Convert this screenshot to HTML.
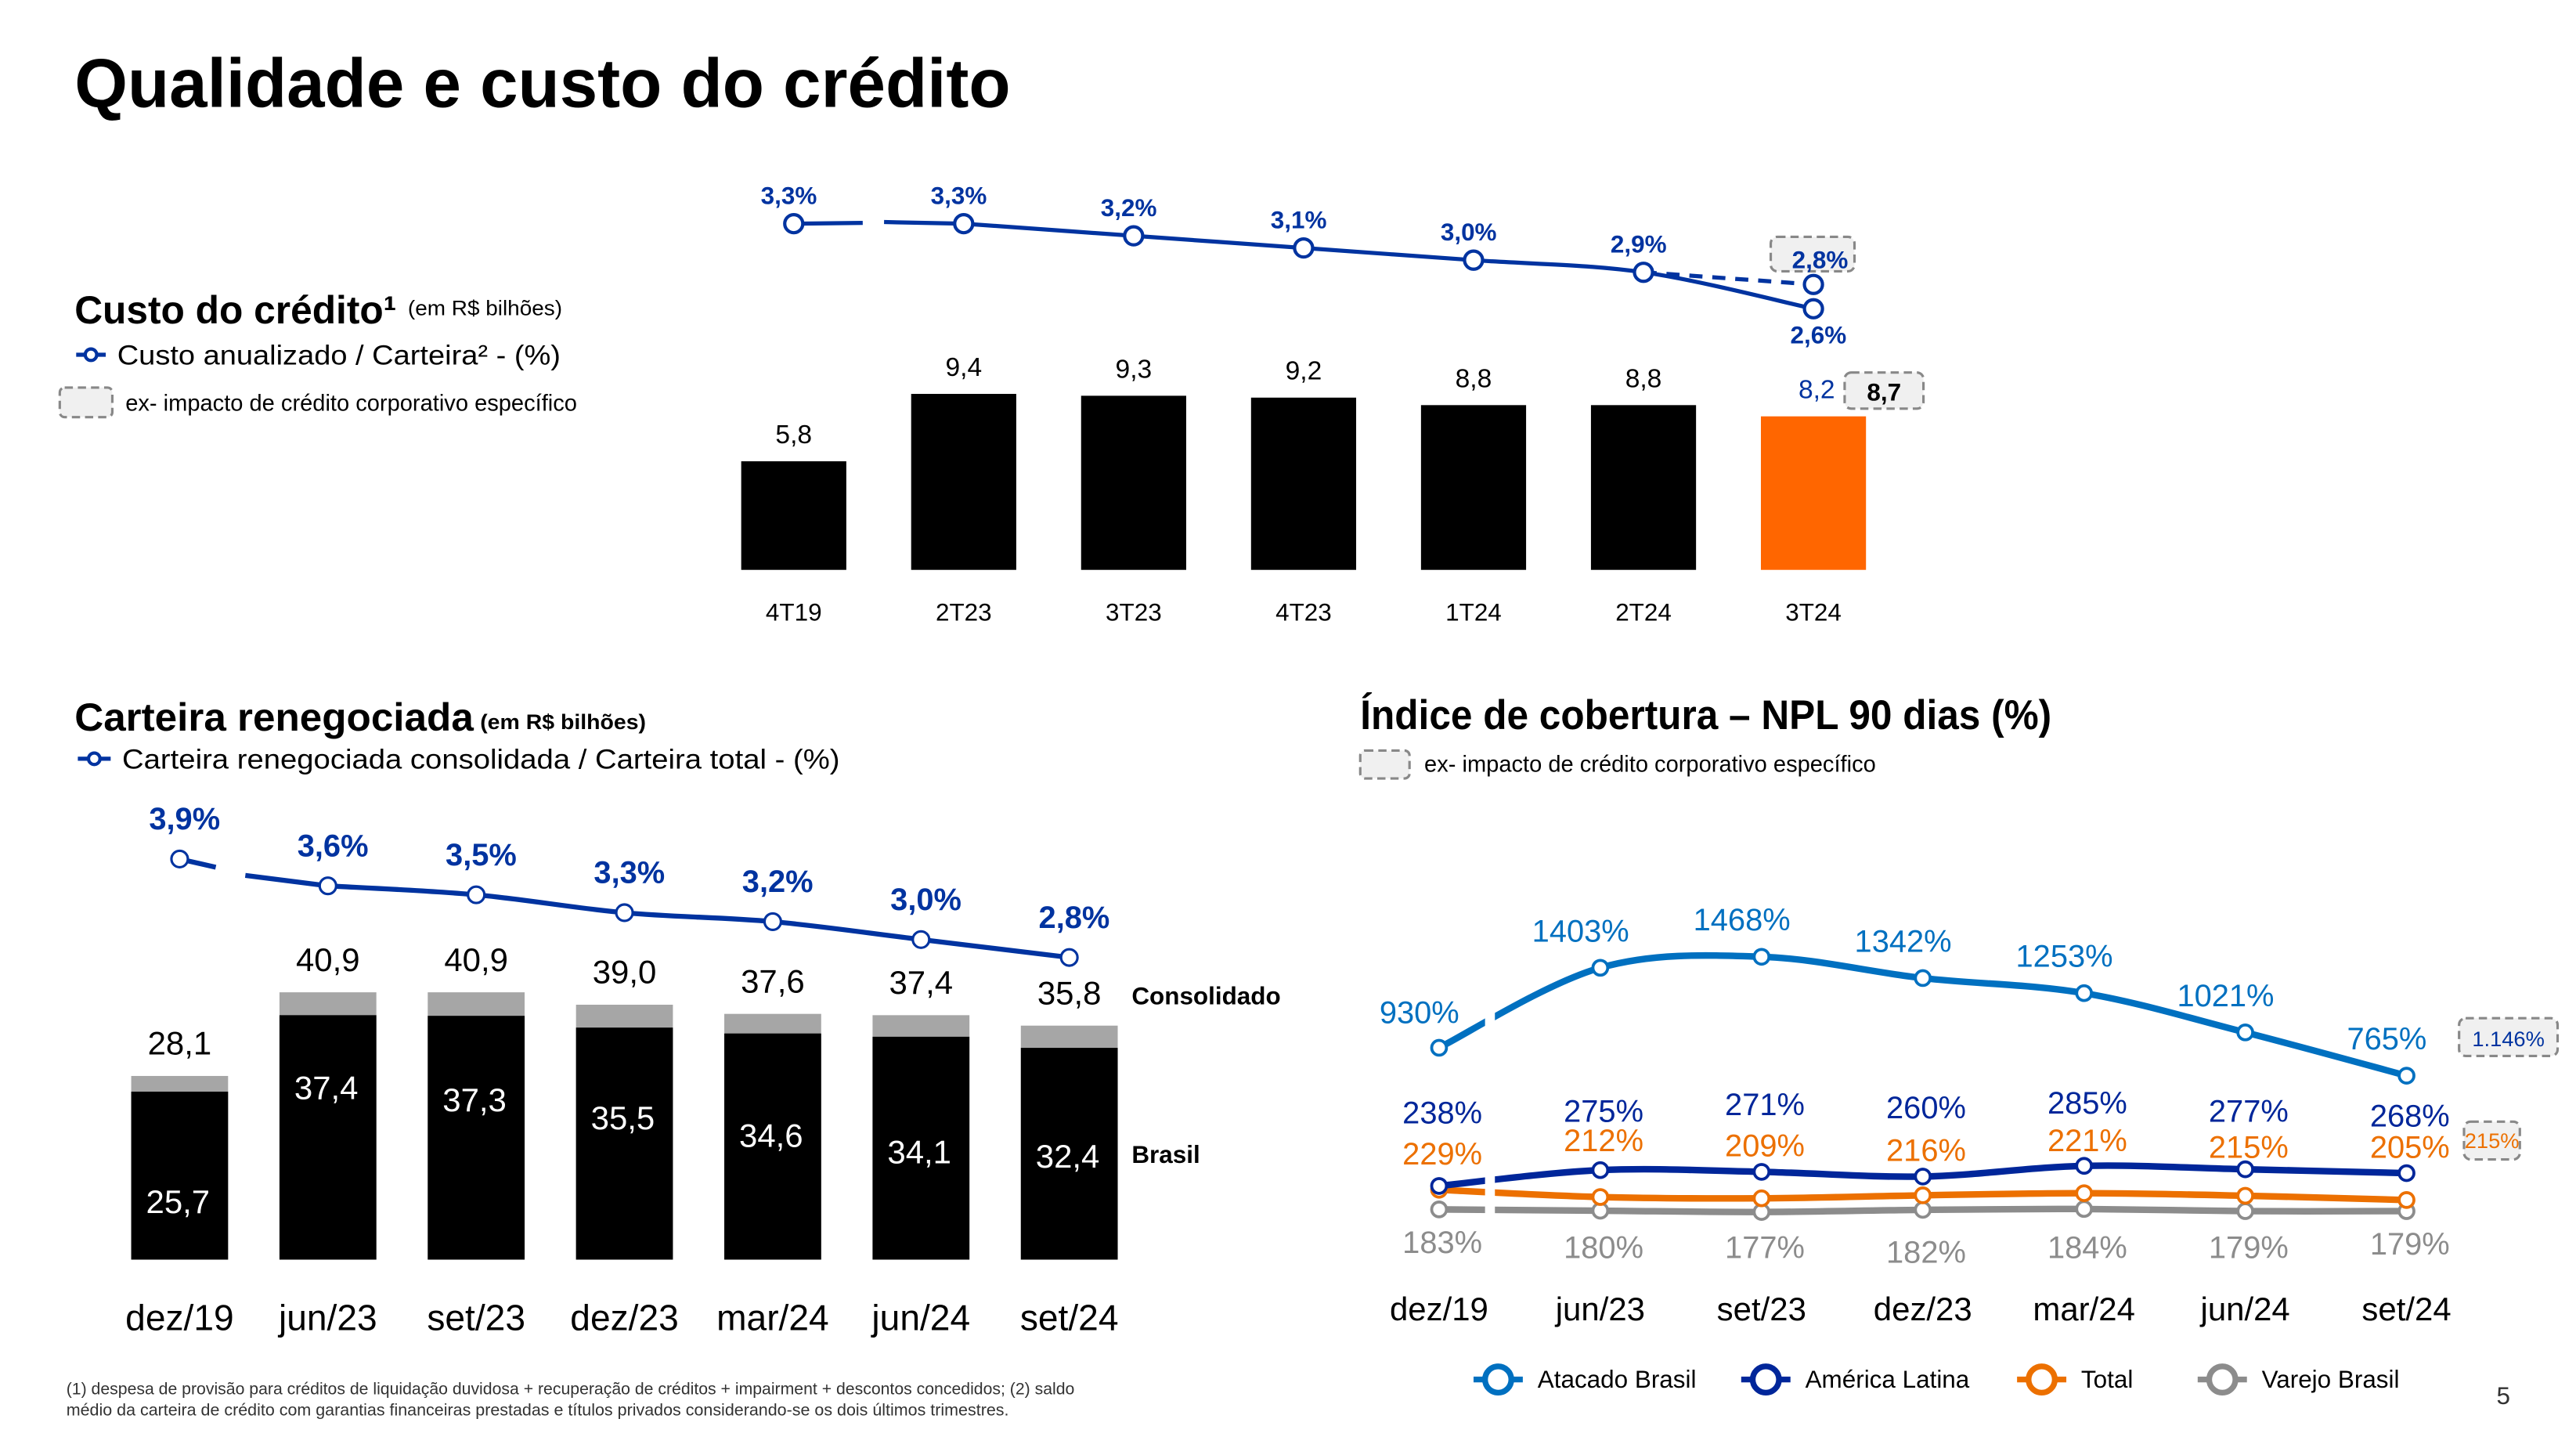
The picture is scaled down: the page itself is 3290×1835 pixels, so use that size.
<!DOCTYPE html>
<html><head><meta charset="utf-8">
<style>
html,body{margin:0;padding:0;background:#fff;}
svg{display:block;}
text{font-family:"Liberation Sans",sans-serif;}
</style></head>
<body>
<svg id="s" xmlns="http://www.w3.org/2000/svg" width="3290" height="1835" viewBox="0 0 1568 875">
<rect width="1568" height="875" fill="#fff"/>
<text x="45" y="65" font-size="42" font-weight="bold" textLength="570" lengthAdjust="spacingAndGlyphs">Qualidade e custo do crédito</text>

<g>
<text x="45" y="197" font-size="24" font-weight="bold" textLength="196" lengthAdjust="spacingAndGlyphs">Custo do crédito¹</text>
<text x="248" y="192" font-size="13" textLength="94" lengthAdjust="spacingAndGlyphs">(em R$ bilhões)</text>
<line x1="46" y1="216" x2="64" y2="216" stroke="#0033a0" stroke-width="2.5"/><circle cx="55" cy="216" r="3.5" fill="#fff" stroke="#0033a0" stroke-width="2"/>
<text x="71" y="222" font-size="17" textLength="270" lengthAdjust="spacingAndGlyphs">Custo anualizado / Carteira² - (%)</text>
<rect x="36" y="236" width="32" height="18" rx="3" fill="#f0f0f0" stroke="#888" stroke-dasharray="5,3" stroke-width="1.5"/>
<text x="76" y="250" font-size="14" textLength="275" lengthAdjust="spacingAndGlyphs">ex- impacto de crédito corporativo específico</text>
</g>
<g id="c1"></g>

<text x="45" y="445" font-size="24" font-weight="bold" textLength="243" lengthAdjust="spacingAndGlyphs">Carteira renegociada</text>
<text x="292" y="444" font-size="13" font-weight="bold" textLength="101" lengthAdjust="spacingAndGlyphs">(em R$ bilhões)</text>
<line x1="47" y1="462" x2="67" y2="462" stroke="#0033a0" stroke-width="2.5"/><circle cx="57" cy="462" r="3.5" fill="#fff" stroke="#0033a0" stroke-width="2"/>
<text x="74" y="468" font-size="17" textLength="437" lengthAdjust="spacingAndGlyphs">Carteira renegociada consolidada / Carteira total - (%)</text>
<g id="c2"></g>

<text x="828" y="444" font-size="25" font-weight="bold" textLength="421" lengthAdjust="spacingAndGlyphs">Índice de cobertura – NPL 90 dias (%)</text>
<rect x="828" y="457" width="30" height="17" rx="3" fill="#f0f0f0" stroke="#888" stroke-dasharray="5,3" stroke-width="1.5"/>
<text x="867" y="470" font-size="14" textLength="275" lengthAdjust="spacingAndGlyphs">ex- impacto de crédito corporativo específico</text>
<g id="c3"></g>

<text x="40" y="849" font-size="10" fill="#333" textLength="614" lengthAdjust="spacingAndGlyphs">(1) despesa de provisão para créditos de liquidação duvidosa + recuperação de créditos + impairment + descontos concedidos; (2) saldo</text>
<text x="40" y="862" font-size="10" fill="#333" textLength="574" lengthAdjust="spacingAndGlyphs">médio da carteira de crédito com garantias financeiras prestadas e títulos privados considerando-se os dois últimos trimestres.</text>
<text x="1520" y="855" font-size="15" fill="#333">5</text>
</svg>
<script>
// ---- Chart 1 data ----
const c1Cats=["4T19","2T23","3T23","4T23","1T24","2T24","3T24"];
const c1Bars=[5.8,9.4,9.3,9.2,8.8,8.8,8.2];
const c1Line=[3.3,3.3,3.2,3.1,3.0,2.9,2.6];
const c1ExBar=8.7;
const c1ExLine=2.8;
// ---- Chart 2 data ----
const c2Cats=["dez/19","jun/23","set/23","dez/23","mar/24","jun/24","set/24"];
const c2Cons=[28.1,40.9,40.9,39.0,37.6,37.4,35.8];
const c2Brasil=[25.7,37.4,37.3,35.5,34.6,34.1,32.4];
const c2Line=[3.9,3.6,3.5,3.3,3.2,3.0,2.8];
// ---- Chart 3 data ----
const c3Cats=["dez/19","jun/23","set/23","dez/23","mar/24","jun/24","set/24"];
const c3Atacado=[930,1403,1468,1342,1253,1021,765];
const c3Latam=[238,275,271,260,285,277,268];
const c3Total=[229,212,209,216,221,215,205];
const c3Varejo=[183,180,177,182,184,179,179];
const c3ExAtacado="1.146%";
const c3ExTotal="215%";

const NS="http://www.w3.org/2000/svg";
function mk(p,tag,a,txt){const e=document.createElementNS(NS,tag);for(const k in a)e.setAttribute(k,a[k]);if(txt!==undefined)e.textContent=txt;p.appendChild(e);return e;}
const fmt=v=>v.toFixed(1).replace('.',',');
function smooth(pts){let d="M"+pts[0][0]+","+pts[0][1];for(let i=0;i<pts.length-1;i++){const p0=pts[i-1]||pts[i],p1=pts[i],p2=pts[i+1],p3=pts[i+2]||p2;const t=6;d+=" C"+(p1[0]+(p2[0]-p0[0])/t)+","+(p1[1]+(p2[1]-p0[1])/t)+" "+(p2[0]-(p3[0]-p1[0])/t)+","+(p2[1]-(p3[1]-p1[1])/t)+" "+p2[0]+","+p2[1];}return d;}

// Chart 1
(function(){
const g=document.getElementById('c1');
const x=i=>483+i*103.5, yb=v=>347-v*11.4, yl=v=>188-(v-2.6)*74;
c1Bars.forEach((v,i)=>{
 const last=i===c1Bars.length-1;
 const r=mk(g,'rect',{x:x(i)-32,y:yb(v),width:64,height:347-yb(v),fill:last?'#ff6600':'#000'});
 
 
 const t=mk(g,'text',{x:last?x(i)+2:x(i),y:yb(v)-11,'font-size':16,'text-anchor':'middle',fill:last?'#0033a0':'#000'},fmt(v));
 
 
 const c=mk(g,'text',{x:x(i),y:378,'font-size':15,'text-anchor':'middle'},c1Cats[i]);
 
 
});
const n=c1Bars.length-1;
const bx=mk(g,'rect',{x:x(n)+19,y:yb(c1ExBar)-21,width:48,height:22,rx:4,fill:'#f0f0f0',stroke:'#888','stroke-dasharray':'5,3','stroke-width':1.5});


const bt=mk(g,'text',{x:x(n)+43,y:yb(c1ExBar)-4,'font-size':15,'font-weight':'bold','text-anchor':'middle'},fmt(c1ExBar));


const pts=c1Line.map((v,i)=>[x(i),yl(v)]);
const l1=mk(g,'path',{d:"M"+pts[0][0]+","+pts[0][1]+" L"+(pts[0][0]+42)+","+(pts[0][1]-0.5),fill:'none',stroke:'#0033a0','stroke-width':2.5});


const l2=mk(g,'path',{d:"M"+(pts[0][0]+55)+","+(pts[0][1]-1)+" L"+pts[1][0]+","+pts[1][1]+smooth(pts.slice(1)).replace(/^M[^ ]+/,''),fill:'none',stroke:'#0033a0','stroke-width':2.5});


const dl=mk(g,'line',{x1:pts[n-1][0],y1:pts[n-1][1],x2:x(n),y2:yl(c1ExLine),stroke:'#0033a0','stroke-width':2.5,'stroke-dasharray':'8,6'});


const ebx=mk(g,'rect',{x:x(n)-26,y:yl(c1ExLine)-29,width:51,height:21,rx:4,fill:'#f0f0f0',stroke:'#888','stroke-dasharray':'5,3','stroke-width':1.5});


const et=mk(g,'text',{x:x(n)+4,y:yl(c1ExLine)-10,'font-size':15,'font-weight':'bold','text-anchor':'middle',fill:'#0033a0'},fmt(c1ExLine)+'%');


const ec=mk(g,'circle',{cx:x(n),cy:yl(c1ExLine),r:5.5,fill:'#fff',stroke:'#0033a0','stroke-width':2});


pts.forEach((p,i)=>{
 const c=mk(g,'circle',{cx:p[0],cy:p[1],r:5.5,fill:'#fff',stroke:'#0033a0','stroke-width':2});
 
 
 const last=i===n;
 const t=mk(g,'text',{x:p[0]+(last?3:-3),y:last?p[1]+21:p[1]-12,'font-size':15,'font-weight':'bold','text-anchor':'middle',fill:'#0033a0'},fmt(c1Line[i])+'%');
 
 
});
})();

// Chart 2
(function(){
const g=document.getElementById('c2');
const x=i=>109+i*90.3, yb=v=>767-v*3.98, yl=v=>583-(v-2.8)*54.5;
const inOff=[74,51,58,62,69,77,73];
c2Cons.forEach((v,i)=>{
 const r=mk(g,'rect',{x:x(i)-29.5,y:yb(v),width:59,height:767-yb(v),fill:'#a6a6a6'});
 
 
 const b=mk(g,'rect',{x:x(i)-29.5,y:yb(c2Brasil[i]),width:59,height:767-yb(c2Brasil[i]),fill:'#000'});
 
 
 const t=mk(g,'text',{x:x(i),y:yb(v)-13,'font-size':20,'text-anchor':'middle'},fmt(v));
 
 
 const tb=mk(g,'text',{x:x(i)-1,y:yb(c2Brasil[i])+inOff[i],'font-size':20,'text-anchor':'middle',fill:'#fff'},fmt(c2Brasil[i]));
 
 
 const c=mk(g,'text',{x:x(i),y:810,'font-size':22,'text-anchor':'middle'},c2Cats[i]);
 
 
});
const n=c2Cons.length-1;
const a=mk(g,'text',{x:x(n)+38,y:yb(c2Cons[n])-13,'font-size':15,'font-weight':'bold'},'Consolidado');


const b=mk(g,'text',{x:x(n)+38,y:yb(c2Brasil[n])+70,'font-size':15,'font-weight':'bold'},'Brasil');


const pts=c2Line.map((v,i)=>[x(i),yl(v)]);
const s1=mk(g,'line',{x1:pts[0][0],y1:pts[0][1],x2:pts[0][0]+22,y2:pts[0][1]+5,stroke:'#0033a0','stroke-width':3});


const l=mk(g,'path',{d:"M"+(pts[0][0]+40)+","+(pts[0][1]+10)+" L"+pts[1][0]+","+pts[1][1]+smooth(pts.slice(1)).replace(/^M[^ ]+/,''),fill:'none',stroke:'#0033a0','stroke-width':3});


pts.forEach((p,i)=>{
 const c=mk(g,'circle',{cx:p[0],cy:p[1],r:5,fill:'#fff',stroke:'#0033a0','stroke-width':1.5});
 
 
 const t=mk(g,'text',{x:p[0]+3,y:p[1]-18,'font-size':19,'font-weight':'bold','text-anchor':'middle',fill:'#0033a0'},fmt(c2Line[i])+'%');
 
 
});
})();

// Chart 3
(function(){
const g=document.getElementById('c3');
const x=i=>876+i*98.2, ya=v=>638-(v-930)*0.103, y2=v=>784-v*0.26;
function series(vals,yf,color,name,sw){
 const pts=vals.map((v,i)=>[x(i),yf(v)]);
 const p=mk(g,'path',{d:smooth(pts),fill:'none',stroke:color,'stroke-width':sw});
 
 
 pts.forEach(q=>{
  const c=mk(g,'circle',{cx:q[0],cy:q[1],r:4.5,fill:'#fff',stroke:color,'stroke-width':1.8});
  
  
 });
 return pts;
}
series(c3Atacado,ya,'#0070c0','atacado',4);
series(c3Varejo,y2,'#8c8c8c','varejo',4);
series(c3Total,y2,'#ec7000','total',4);
series(c3Latam,y2,'#00269a','latam',4);
const gap=mk(g,'rect',{x:x(0)+28,y:560,width:6,height:190,fill:'#fff'});


const latRow=[684,683,679,681,678,683,686], totRow=[709,701,704,707,701,705,705], varRow=[763,766,766,769,766,766,764];
c3Cats.forEach((c,i)=>{
 const t=mk(g,'text',{x:x(i)-12,y:ya(c3Atacado[i])-16,'font-size':19,'text-anchor':'middle',fill:'#0070c0'},c3Atacado[i]+'%');
 if(i===0){t.setAttribute('y',ya(c3Atacado[i])-15);}
 
 
 const a=mk(g,'text',{x:x(i)+2,y:latRow[i],'font-size':19,'text-anchor':'middle',fill:'#00269a'},c3Latam[i]+'%');
 
 
 const b=mk(g,'text',{x:x(i)+2,y:totRow[i],'font-size':19,'text-anchor':'middle',fill:'#ec7000'},c3Total[i]+'%');
 
 
 const d=mk(g,'text',{x:x(i)+2,y:varRow[i],'font-size':19,'text-anchor':'middle',fill:'#8c8c8c'},c3Varejo[i]+'%');
 
 
 const xl=mk(g,'text',{x:x(i),y:804,'font-size':20,'text-anchor':'middle'},c);
 
 
});
const n=c3Cats.length-1;
const r1=mk(g,'rect',{x:x(n)+32,y:ya(c3Atacado[n])-35,width:60,height:23,rx:4,fill:'#f0f0f0',stroke:'#888','stroke-dasharray':'5,3','stroke-width':1.5});


const t1=mk(g,'text',{x:x(n)+62,y:ya(c3Atacado[n])-18,'font-size':13,'text-anchor':'middle',fill:'#0033a0'},c3ExAtacado);


const r2=mk(g,'rect',{x:x(n)+35,y:683,width:34,height:23,rx:4,fill:'#f0f0f0',stroke:'#888','stroke-dasharray':'5,3','stroke-width':1.5});


const t2=mk(g,'text',{x:x(n)+52,y:699,'font-size':13,'text-anchor':'middle',fill:'#ec7000'},c3ExTotal);


const leg=[["Atacado Brasil","#0070c0",897],["América Latina","#00269a",1060],["Total","#ec7000",1228],["Varejo Brasil","#8c8c8c",1338]];
leg.forEach(l=>{
 const gg=mk(g,'g',{});
 
 
 mk(gg,'line',{x1:l[2],y1:840,x2:l[2]+30,y2:840,stroke:l[1],'stroke-width':3.5});
 mk(gg,'circle',{cx:l[2]+15,cy:840,r:8,fill:'#fff',stroke:l[1],'stroke-width':3.5});
 mk(gg,'text',{x:l[2]+39,y:845,'font-size':15},l[0]);
});
})();
</script>
</body></html>
